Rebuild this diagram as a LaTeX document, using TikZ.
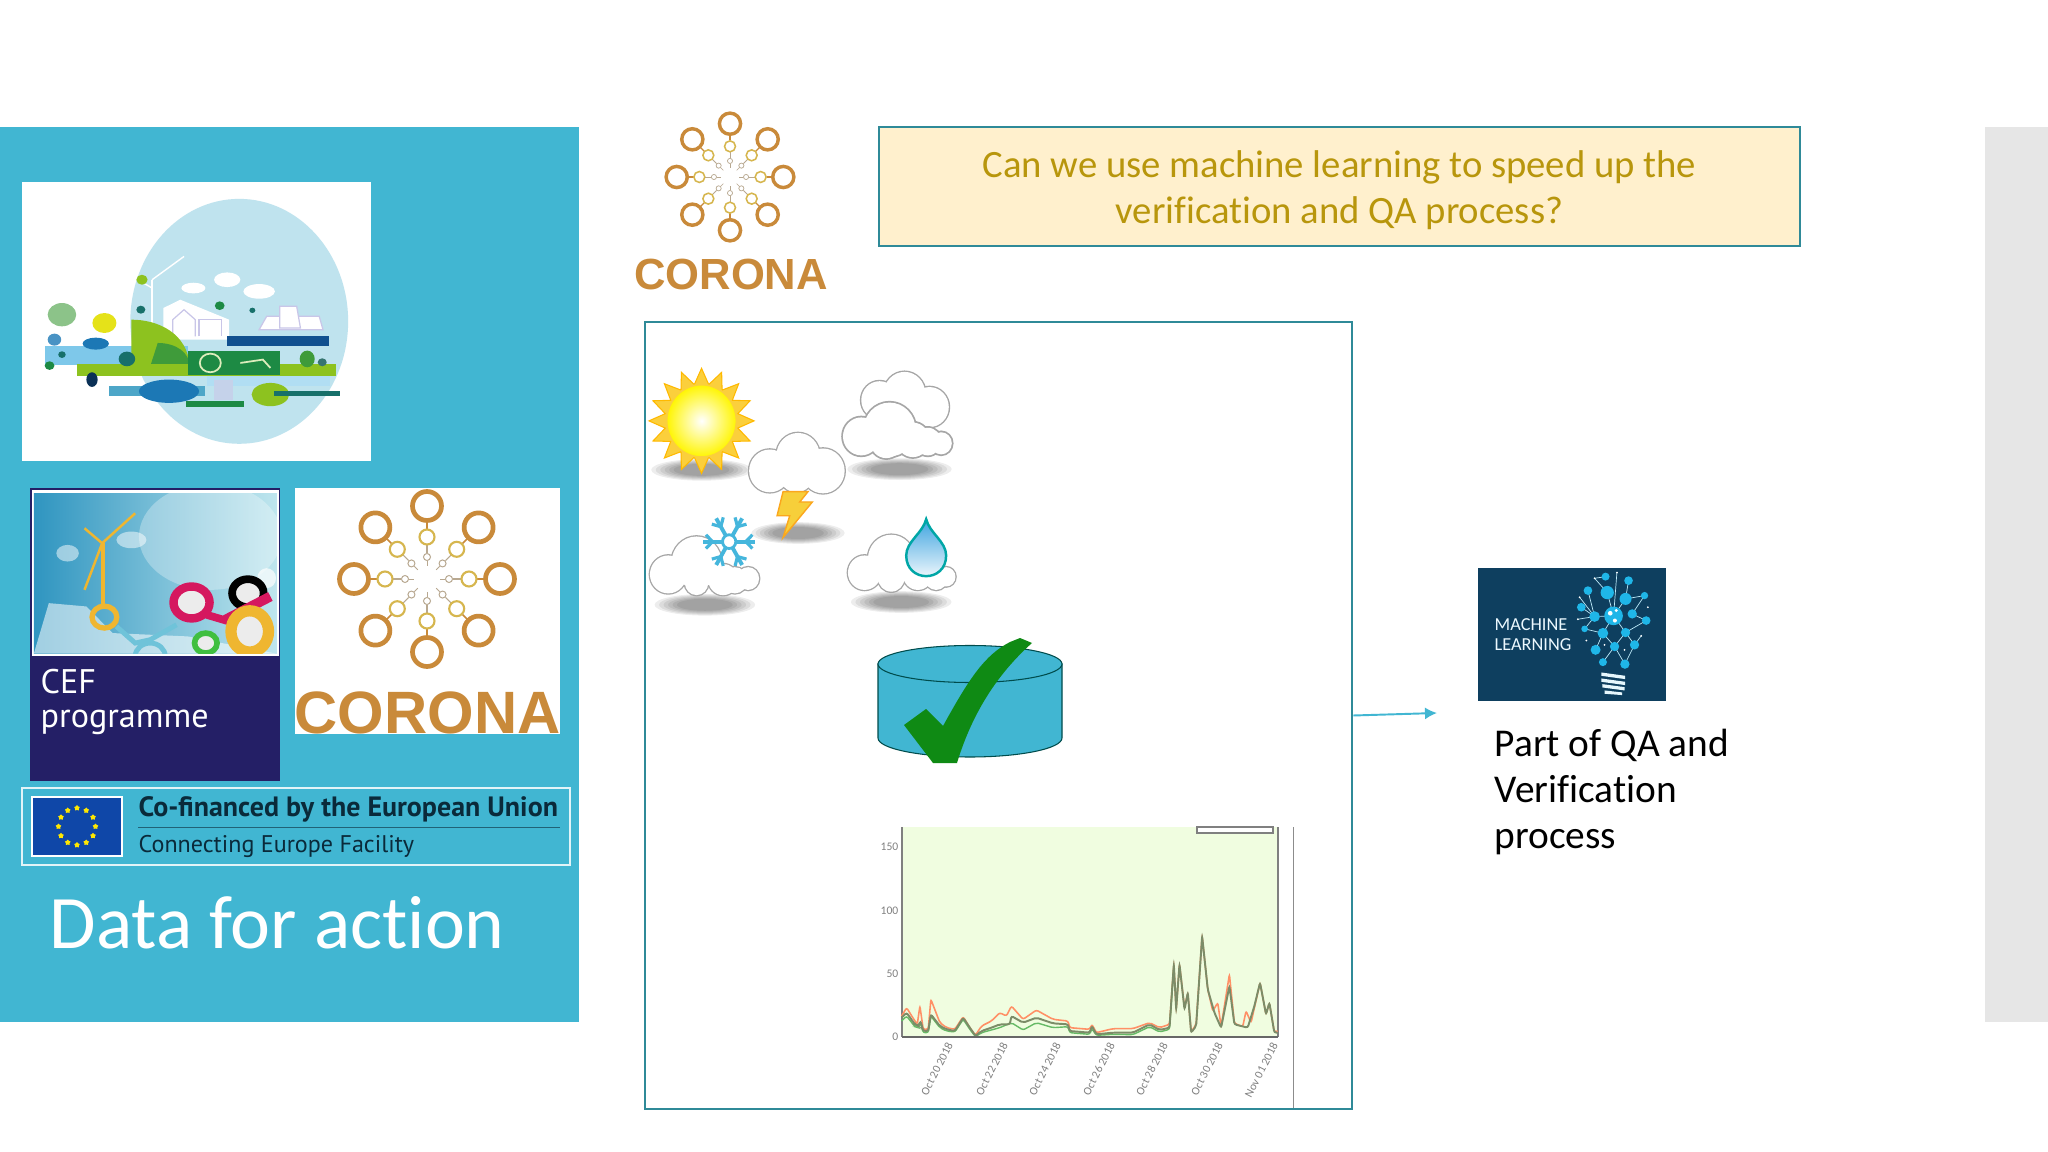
\documentclass[tikz,border=0pt]{standalone}
\usepackage{fontspec}
\setmainfont{Carlito}[Ligatures=NoCommon]
\newfontfamily\logofont{Liberation Sans}
\newfontfamily\eufont{PT Sans}
\usepackage{tikz}
\usetikzlibrary{arrows.meta,shapes.geometric}

\definecolor{panelblue}{HTML}{41B6D2}
\definecolor{sidegrey}{HTML}{E6E6E6}
\definecolor{frameteal}{HTML}{2F8A98}
\definecolor{questionfill}{HTML}{FFF0CD}
\definecolor{questionink}{HTML}{B8960C}
\definecolor{ringbrown}{HTML}{C98A3A}
\definecolor{ringgold}{HTML}{D6B64E}
\definecolor{ringgrey}{HTML}{B8A890}
\definecolor{cefnavy}{HTML}{241F66}
\definecolor{cefyellow}{HTML}{EFB630}
\definecolor{cefpink}{HTML}{D5185F}
\definecolor{ceflink}{HTML}{6FC3D9}
\definecolor{cefskyleft}{HTML}{2F95C0}
\definecolor{cefskyright}{HTML}{BFE6EE}
\definecolor{euflagblue}{HTML}{0F47A8}
\definecolor{eutext}{HTML}{0A2A3A}
\definecolor{mlnavy}{HTML}{0E3F5F}
\definecolor{mlcyan}{HTML}{1FB6E8}
\definecolor{checkgreen}{HTML}{0F8A14}
\definecolor{chartfill}{HTML}{F0FDE0}
\definecolor{chartgrey}{HTML}{808080}
\definecolor{chartolive}{HTML}{7C8C68}
\definecolor{globeblue}{HTML}{BFE3EE}
\definecolor{landolive}{HTML}{8DC21F}
\definecolor{landgreen}{HTML}{3F9B3A}
\definecolor{landdark}{HTML}{1D8A44}
\definecolor{landnavy}{HTML}{11508F}
\definecolor{landsky}{HTML}{7EC8EA}
\definecolor{landwater}{HTML}{4DA6C8}
\definecolor{landblue}{HTML}{1C78B5}
\definecolor{landteal}{HTML}{17706A}
\definecolor{landlilac}{HTML}{C9C6E8}
\definecolor{flakeblue}{HTML}{45B6DC}
\definecolor{boltyellow}{HTML}{F7CF3A}
\definecolor{raysyellow}{HTML}{FBCF3C}

\tikzset{
    zoomthree/.style 2 args={shift={(#1,#2)},x=0.003333cm,y=-0.003333cm},
    zoomicons/.style 2 args={shift={(#1,#2)},x=0.003333cm,y=-0.00345cm},
    zoomwide/.style={shift={(0,#1)},x=0.00376cm,y=-0.003333cm},
    softshadow/.style={fill=black,opacity=0.07},
    cloudline/.style={draw=black!35},
    monthlabel/.style={text=chartgrey,font=\fontsize{3.3}{4}\selectfont,rotate=63,anchor=east,inner sep=0pt},
    ticklabel/.style={text=chartgrey,font=\fontsize{3.3}{4}\selectfont,anchor=east,inner sep=0pt},
    bulbdot/.style={fill=mlcyan,draw=none}
}

\newcommand{\coronamark}[3]{
    \begin{scope}[shift={(#1,#2)},scale=#3]
        \foreach \a in {0,45,...,315} {
            \draw[ringbrown,line width=#3*0.45pt] (\a:58) -- (\a:50);
            \draw[ringgrey,line width=#3*0.3pt] (\a:34) -- (\a:26);
            \draw[ringgrey,line width=#3*0.25pt] (\a:18) -- (\a:13);
            \draw[ringbrown,line width=#3*1.34pt] (\a:73) circle (14.5);
            \draw[ringgold,line width=#3*0.6pt] (\a:42) circle (7.5);
            \draw[ringgrey,line width=#3*0.28pt] (\a:22) circle (3.5);
        }
    \end{scope}
}

\newcommand{\puffcloud}[2]{
    \foreach \px/\py/\pr in {#1} {
        \draw[cloudline,line width=#2] (\px,\py) circle (\pr);
    }
    \foreach \px/\py/\pr in {#1} {
        \fill[white] (\px,\py) circle (\pr);
    }
}

\newcommand{\softblob}[4]{
    \foreach \k in {1.12,1.02,0.92,0.82,0.72,0.62} {
        \fill[softshadow] (#1,#2) ellipse[x radius=#3*\k,y radius=#4*\k];
    }
}

\begin{document}
\begin{tikzpicture}[x=0.01cm,y=-0.01cm]

        \useasboundingbox (0,0) rectangle (2048,1152);
        \fill[white] (0,0) rectangle (2048,1152);

        \fill[panelblue] (0,127) rectangle (579,1022);
        \fill[sidegrey] (1985,127) rectangle (2048,1022);

        \fill[white] (22,182) rectangle (371,461);
        \begin{scope}[zoomwide=120]
            \fill[globeblue] (637,605) ellipse (290 and 368);
            \fill[white] (605,480) ellipse (35 and 22);
            \fill[white] (515,505) ellipse (32 and 16);
            \fill[white] (690,515) ellipse (42 and 22);
            \draw[white,line width=0.5pt] (345,735) -- (345,370);
            \draw[white,line width=0.4pt] (345,465) -- (270,510);
            \draw[white,line width=0.4pt] (345,465) -- (405,505);
            \draw[white,line width=0.5pt] (405,735) -- (405,480);
            \draw[white,line width=0.4pt] (405,480) -- (490,410);
            \fill[white] (435,660) -- (435,565) -- (480,540) -- (610,600) -- (610,660) -- cycle;
            \draw[landlilac,line width=0.35pt] (460,650) -- (460,600) -- (490,570) -- (520,600) -- (520,650);
            \draw[landlilac,line width=0.35pt] (530,650) -- (530,600) -- (590,600) -- (590,650);
            \draw[landlilac,line width=0.35pt,fill=white] (690,630) -- (710,590) -- (850,590) -- (860,630) -- cycle;
            \draw[landlilac,line width=0.35pt,fill=white] (745,560) -- (790,560) -- (800,625) -- (745,625) -- cycle;
            \fill[landsky] (120,680) rectangle (500,735);
            \fill[landolive] (350,600) .. controls (420,600) and (500,640) .. (505,740) -- (350,740) -- cycle;
            \fill[landgreen] (420,670) .. controls (470,670) and (505,700) .. (505,740) -- (400,740) -- cycle;
            \fill[landsky!60] (550,770) rectangle (880,800);
            \fill[landolive] (205,732) rectangle (895,768);
            \fill[landnavy] (605,648) rectangle (875,680);
            \fill[landdark] (500,695) rectangle (745,765);
            \draw[white!70!landolive,line width=0.5pt] (560,730) circle (28);
            \draw[white!70!landolive,line width=0.5pt] (640,730) -- (700,720) -- (720,745);
            \fill[landwater] (290,800) rectangle (545,830);
            \fill[landblue] (450,815) ellipse (80 and 35);
            \fill[landlilac!60!globeblue] (570,780) rectangle (620,840);
            \fill[landolive] (720,825) ellipse (50 and 35);
            \fill[landdark] (495,845) rectangle (650,862);
            \fill[landteal] (730,815) rectangle (905,830);
            \fill[landgreen!60!white] (165,585) ellipse (38 and 35);
            \fill[yellow!75!landolive] (278,610) ellipse (32 and 30);
            \fill[landblue!80!white] (145,660) ellipse (18 and 18);
            \fill[landblue] (255,672) ellipse (35 and 18);
            \fill[landteal] (165,705) ellipse (10 and 10);
            \fill[landdark] (132,738) ellipse (13 and 13);
            \fill[landteal] (338,718) ellipse (22 and 22);
            \fill[landnavy!60!black] (245,780) ellipse (15 and 22);
            \fill[landteal] (375,570) ellipse (12 and 12);
            \fill[landdark] (585,558) ellipse (13 and 13);
            \fill[landteal] (672,572) ellipse (8 and 8);
            \fill[landgreen] (818,718) ellipse (20 and 25);
            \fill[landteal!70!gray] (858,728) ellipse (12 and 12);
            \fill[landolive] (378,480) ellipse (15 and 15);
        \end{scope}

        \fill[cefnavy] (30,488) rectangle (280,781);
        \begin{scope}[zoomwide=480]
            \fill[white] (85,30) rectangle (742,528);
            \begin{scope}
                \clip (90,40) rectangle (737,522);
                \shade[left color=cefskyleft,right color=cefskyright] (90,40) rectangle (737,522);
                \fill[white,opacity=0.3] (560,170) ellipse (190 and 160);
                \fill[white,opacity=0.55] (90,522) -- (130,370) -- (230,380) -- (300,460) -- (500,470) -- (737,522) -- cycle;
                \fill[white,opacity=0.5] (180,220) ellipse (30 and 25);
                \fill[white,opacity=0.5] (350,180) ellipse (40 and 25);
                \draw[ceflink,line width=1.4pt] (310,440) -- (360,490) -- (400,480) -- (470,435);
                \draw[ceflink,line width=1.4pt] (400,530) circle (40);
                \draw[cefyellow,line width=1.1pt] (275,190) -- (275,375);
                \draw[cefyellow,line width=0.7pt] (272,190) -- (225,145);
                \draw[cefyellow,line width=0.7pt] (272,190) -- (360,100);
                \draw[cefyellow,line width=0.7pt] (272,190) -- (225,330);
                \draw[cefyellow,line width=1.5pt] (278,412) circle (33);
                \fill[white,opacity=0.7] (710,295) ellipse (25 and 30);
                \draw[black,fill=white!85!gray,line width=2.2pt] (660,340) ellipse (42 and 42);
                \draw[cefpink,line width=2.8pt] (600,420) -- (720,350);
                \draw[cefpink,line width=2.4pt,fill=white!85!gray] (510,368) ellipse (48 and 48);
                \draw[cefpink,line width=2.2pt] (550,405) -- (610,425);
                \draw[green!50!gray,line width=1.6pt,fill=white!85!gray] (548,490) ellipse (30 and 30);
                \draw[cefyellow,line width=3.2pt,fill=white!85!gray] (665,455) ellipse (50 and 62);
            \end{scope}
        \end{scope}
        \node[text=white,font=\eufont\fontsize{9.7}{9.6}\selectfont,align=left,anchor=north west,inner sep=0pt] (ceftitle) at (40,669) {CEF\\programme};

        \fill[white] (295,488) rectangle (560,734);
        \coronamark{427}{579}{1}
        \node[text=ringbrown,font=\logofont\bfseries\fontsize{17}{18}\selectfont,anchor=base,inner sep=0pt] (coronalarge) at (427.5,733) {CORONA};

        \draw[white!85!panelblue,line width=0.6pt] (22,788) rectangle (570,865);
        \draw[white,fill=euflagblue,line width=0.45pt] (32,797) rectangle (122,856);
        \foreach \a in {0,30,...,330} {
            \node[star,star points=5,fill=yellow!90!orange,inner sep=0pt,minimum size=0.06cm] (euflag\a) at ([shift={(77,826.5)}]\a:18.5) {};
        }
        \node[text=eutext,font=\eufont\bfseries\fontsize{7.95}{8}\selectfont,anchor=base west,inner sep=0pt] (eutitle) at (138,816) {Co-financed by the European Union};
        \draw[eutext!60!panelblue,line width=0.25pt] (138,827) -- (560,827);
        \node[text=eutext,font=\eufont\fontsize{6.85}{8}\selectfont,anchor=base west,inner sep=0pt] (eusub) at (138,852) {Connecting Europe Facility};

        \node[text=white,font=\fontsize{21.5}{24}\selectfont,anchor=base west,inner sep=0pt] (panelcaption) at (49,948) {Data for action};

        \coronamark{730}{177}{0.73}
        \node[text=ringbrown,font=\logofont\bfseries\fontsize{12.4}{13}\selectfont,anchor=base,inner sep=0pt] (coronasmall) at (731,290) {CORONA};

        \node[draw=frameteal,fill=questionfill,line width=0.6pt,minimum width=9.21cm,minimum height=1.19cm,inner sep=0pt] (questionbox) at (1339.5,186.5) {};
        \node[text=questionink,align=center,inner sep=0pt,font=\fontsize{11}{13.1}\selectfont] (questionlabel) at (1339.5,190.5) {Can we use machine learning to speed up the\\verification and QA process?};

        \node[draw=frameteal,line width=0.6pt,minimum width=7.07cm,minimum height=7.87cm,inner sep=0pt] (databox) at (998.5,715.5) {};

        \begin{scope}[zoomicons={620}{100}]
            \softblob{245}{1072}{135}{28}
            \softblob{535}{1255}{125}{28}
            \softblob{840}{1070}{140}{28}
            \softblob{255}{1463}{135}{28}
            \softblob{845}{1455}{135}{28}
            \node[star,star points=16,star point ratio=1.42,draw=orange!55!yellow,fill=raysyellow,line width=0.3pt,minimum size=1.05cm,inner sep=0pt] (sunrays) at (245,930) {};
            \shade[inner color=white,outer color=yellow!92!orange,draw=raysyellow,line width=0.5pt] (245,930) circle (105);
            \puffcloud{780/870/55,855/850/62,930/890/58,840/900/80}{0.8pt}
            \puffcloud{725/975/55,810/955/78,880/985/50,925/990/40,965/995/32,800/990/48}{1pt}
            \puffcloud{450/1075/62,535/1030/65,610/1075/65,530/1085/52}{0.75pt}
            \draw[orange!50!boltyellow,fill=boltyellow,line width=0.4pt] (490,1135) -- (472,1205) -- (510,1205) -- (490,1268) -- (578,1165) -- (540,1165) -- (565,1135) -- cycle;
            \puffcloud{145/1375/55,230/1340/75,310/1390/45,345/1392/38,385/1387/33,230/1400/35}{0.75pt}
            \puffcloud{735/1370/50,815/1330/70,895/1375/45,950/1385/35,980/1382/28,815/1385/40}{0.75pt}
            \foreach \a in {0,60,...,300} {
                \draw[flakeblue,line width=1.1pt] (328,1280) -- ++(\a:78);
                \draw[flakeblue,line width=0.9pt] ([shift={(328,1280)}]\a:50) -- ++(\a+45:28);
                \draw[flakeblue,line width=0.9pt] ([shift={(328,1280)}]\a:50) -- ++(\a-45:28);
            }
            \draw[flakeblue,fill=white,line width=0.8pt] (328,1280) circle (20);
            \shade[top color=flakeblue!90!blue,bottom color=white,draw=teal!70!cyan,line width=0.7pt] (920,1215) .. controls (930,1255) and (980,1280) .. (980,1320) .. controls (980,1400) and (860,1400) .. (860,1320) .. controls (860,1280) and (910,1255) .. (920,1215) -- cycle;
        \end{scope}

        \draw[teal!60!black,fill=panelblue,line width=0.3pt] (878,664) -- (878,738) arc[start angle=180,end angle=360,x radius=92,y radius=-19] -- (1062,664) -- cycle;
        \draw[teal!60!black,fill=panelblue,line width=0.3pt] (970,664) ellipse (92 and 18.5);
        \fill[checkgreen] (904,725) -- (926,709) -- (943,726) .. controls (970,677) and (985,655) .. (1010,642) -- (1020,638) -- (1032,643) .. controls (987,683) and (967,730) .. (957,763) -- (933,763) -- cycle;

        \fill[chartfill] (902,827) rectangle (1278,1037);
        \draw[chartgrey,line width=0.5pt] (902,827) -- (902,1037);
        \draw[chartgrey,line width=0.5pt] (1278,827) -- (1278,1037);
        \draw[black!45,line width=0.25pt] (1293,827) -- (1293,1108);
        \draw[chartgrey,fill=white,line width=0.35pt] (1197,827) rectangle (1273,833);
        \begin{scope}[zoomthree={860}{620}]
            \draw[red!45!orange!60,line width=0.45pt,rounded corners=0.6pt] (125,1190) -- (140,1165) -- (165,1205) -- (172,1215) -- (180,1160) -- (190,1230) -- (205,1230) -- (213,1140) -- (240,1210) -- (260,1225) -- (285,1230) -- (310,1192) -- (330,1225) -- (347,1248) -- (365,1220) -- (395,1205) -- (420,1180) -- (440,1190) -- (455,1160) -- (490,1200) -- (530,1172) -- (580,1200) -- (625,1205) -- (630,1225) -- (690,1230) -- (697,1215) -- (710,1240) -- (760,1228) -- (820,1228) -- (870,1210) -- (900,1225) -- (930,1215) -- (943,1035) -- (950,1170) -- (960,1035) -- (975,1165) -- (985,1120) -- (995,1238) -- (1010,1215) -- (1028,950) -- (1045,1110) -- (1060,1175) -- (1075,1150) -- (1085,1222) -- (1110,1065) -- (1125,1212) -- (1150,1222) -- (1160,1175) -- (1175,1210) -- (1202,1090) -- (1220,1185) -- (1230,1150) -- (1245,1238) -- (1255,1235);
            \draw[green!55!black!60,line width=0.4pt,rounded corners=0.6pt] (125,1205) -- (140,1190) -- (165,1222) -- (175,1225) -- (182,1212) -- (190,1240) -- (205,1240) -- (213,1190) -- (240,1225) -- (260,1235) -- (285,1238) -- (310,1200) -- (330,1230) -- (347,1252) -- (365,1240) -- (420,1225) -- (455,1210) -- (490,1232) -- (530,1210) -- (580,1225) -- (625,1222) -- (630,1240) -- (690,1245) -- (697,1228) -- (710,1248) -- (760,1245) -- (820,1246) -- (870,1222) -- (900,1238) -- (930,1230) -- (943,1040);
            \draw[chartolive,line width=0.55pt,rounded corners=0.6pt] (125,1195) -- (140,1180) -- (165,1215) -- (175,1220) -- (182,1205) -- (190,1235) -- (205,1235) -- (213,1185) -- (240,1220) -- (260,1230) -- (285,1235) -- (310,1195) -- (330,1225) -- (347,1250) -- (365,1235) -- (395,1225) -- (420,1215) -- (450,1215) -- (455,1190) -- (490,1210) -- (530,1195) -- (580,1212) -- (625,1215) -- (630,1235) -- (690,1240) -- (697,1220) -- (710,1245) -- (760,1240) -- (820,1240) -- (870,1215) -- (900,1232) -- (930,1225) -- (943,1035) -- (950,1170) -- (960,1035) -- (975,1170) -- (985,1120) -- (995,1240) -- (1010,1220) -- (1028,950) -- (1045,1110) -- (1065,1180) -- (1085,1225) -- (1110,1100) -- (1125,1215) -- (1165,1225) -- (1185,1160) -- (1202,1090) -- (1220,1185) -- (1230,1150) -- (1245,1240) -- (1255,1240);
        \end{scope}
        \draw[chartgrey!80!black,line width=0.5pt] (902,1037) -- (1278,1037);

        \node[ticklabel] (tickhigh) at (899,847) {150};
        \node[ticklabel] (tickmid) at (899,911) {100};
        \node[ticklabel] (ticklow) at (899,974) {50};
        \node[ticklabel] (tickzero) at (899,1037) {0};

        \node[monthlabel] (dateone) at (950,1043) {Oct 20 2018};
        \node[monthlabel] (datetwo) at (1005,1043) {Oct 22 2018};
        \node[monthlabel] (datethree) at (1058,1043) {Oct 24 2018};
        \node[monthlabel] (datefour) at (1112,1043) {Oct 26 2018};
        \node[monthlabel] (datefive) at (1165,1043) {Oct 28 2018};
        \node[monthlabel] (datesix) at (1220,1043) {Oct 30 2018};
        \node[monthlabel] (dateseven) at (1275,1043) {Nov 01 2018};

        \coordinate (arrowend) at (1437,713);
        \draw[-{Latex[length=0.12cm,width=0.12cm]},panelblue,line width=0.55pt] (databox.east) -- (arrowend);

        \fill[mlnavy] (1478,568) rectangle (1666,701);
        \node[text=cyan!8!white,font=\fontsize{5.2}{5.7}\selectfont,anchor=base west,inner sep=0pt] (mllabelone) at (1494,630) {MACHINE};
        \node[text=cyan!8!white,font=\fontsize{5.2}{5.7}\selectfont,anchor=base west,inner sep=0pt] (mllabeltwo) at (1494,650) {LEARNING};
        \begin{scope}[zoomthree={1340}{550}]
            \draw[white!70!mlcyan,line width=0.2pt] (745,122) -- (765,200) -- (822,198) -- (803,128) -- (765,85) -- (798,80);
            \draw[white!70!mlcyan,line width=0.2pt] (725,172) -- (765,200) -- (735,237) -- (790,250) -- (822,198) -- (858,147) -- (867,92);
            \draw[white!70!mlcyan,line width=0.2pt] (832,68) -- (822,198) -- (858,248) -- (920,212) -- (878,192) -- (915,137) -- (858,147);
            \draw[white!70!mlcyan,line width=0.2pt] (768,300) -- (790,250) -- (825,290) -- (858,248) -- (885,285) -- (905,258);
            \draw[white!70!mlcyan,line width=0.2pt] (790,337) -- (825,290) -- (856,343) -- (885,285);
            \draw[white!70!mlcyan,line width=0.2pt] (720,142) -- (765,200) -- (715,208);
            \foreach \px/\py/\pr in {798/80/12,867/92/13,915/137/11,745/122/13,803/128/20,858/147/18,725/172/13,765/200/16,822/198/28,878/192/14,920/212/13,735/237/10,790/250/16,858/248/14,768/300/15,825/290/14,885/285/14,790/337/12,856/343/14} {
                \fill[bulbdot] (\px,\py) circle (\pr);
            }
            \foreach \px/\py in {832/68,765/85,720/142,715/208,740/272,905/258,925/172,795/285,855/300} {
                \fill[white] (\px,\py) circle (3);
            }
            \fill[white] (812,190) circle (7);
            \fill[white] (830,182) circle (5);
            \fill[white] (826,212) circle (6);
            \fill[white!90!cyan] (785,368) -- (857,378) -- (857,388) -- (785,378) -- cycle;
            \fill[white!90!cyan] (785,386) -- (857,396) -- (857,406) -- (785,396) -- cycle;
            \fill[white!90!cyan] (788,403) -- (855,412) -- (855,422) -- (788,413) -- cycle;
            \fill[white!90!cyan] (795,422) -- (848,428) -- (848,436) -- (795,432) -- cycle;
        \end{scope}

        \node[text=black,font=\fontsize{11.2}{13.1}\selectfont,align=left,anchor=north west,inner sep=0pt] (partlabel) at (1494,728) {Part of QA and\\Verification\\process};

\end{tikzpicture}
\end{document}
